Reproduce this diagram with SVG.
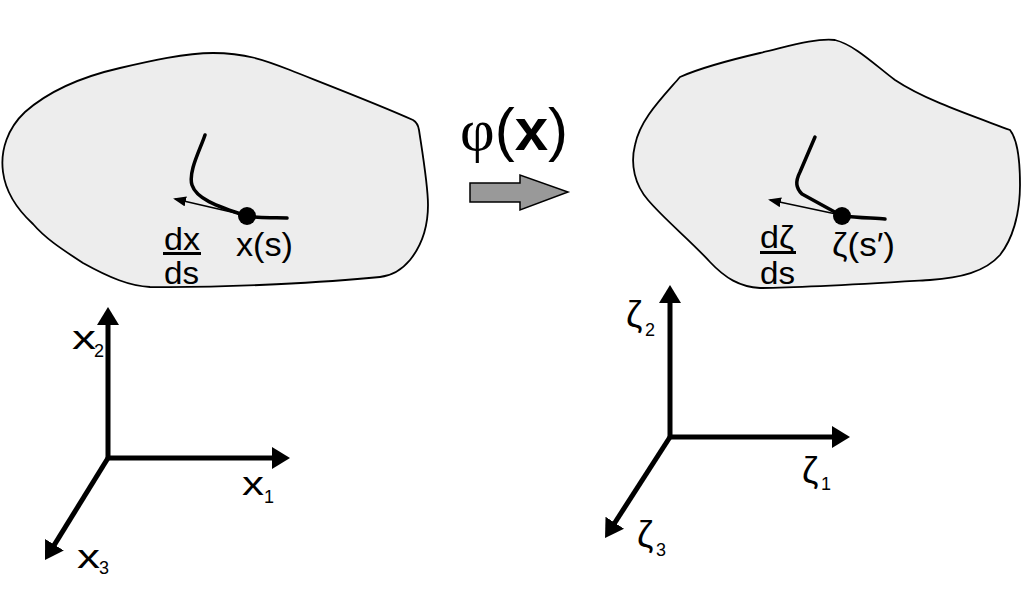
<svg xmlns="http://www.w3.org/2000/svg" width="1023" height="603" viewBox="0 0 1023 603">
<defs>
<style>
.blob{fill:#ededed;stroke:#000;stroke-width:1.8}
.curve{fill:none;stroke:#000;stroke-width:3.5;stroke-linecap:round;stroke-linejoin:round}
.tan{fill:none;stroke:#000;stroke-width:1.6}
.axis{fill:none;stroke:#000;stroke-width:5}
.t{font-family:"Liberation Sans",Arial,sans-serif;fill:#000}
.sub{font-family:"Liberation Sans",Arial,sans-serif;fill:#000;font-size:18px}
</style>
<marker id="ah" markerUnits="userSpaceOnUse" markerWidth="20" markerHeight="24" refX="2" refY="11" orient="auto" viewBox="0 0 20 24">
<path d="M0,0 L18,11 L0,22 z" fill="#000"/>
</marker>
<marker id="sh" markerUnits="userSpaceOnUse" markerWidth="14" markerHeight="12" refX="11" refY="5" orient="auto" viewBox="0 0 14 12">
<path d="M0,0 L13,5 L0,10 z" fill="#000"/>
</marker>
</defs>
<rect width="1023" height="603" fill="#fff"/>
<g id="body-left">
<path class="blob" d="M120,68 C150,61 185,53 213,53 C245,53 265,60 290,70 C320,82 380,105 413,120 Q418,123 419,130 C422,150 428,185 428,205 C428,225 422,245 410,260 C400,272 390,276 380,277 C330,282 230,288 150,287 C130,286 110,278 83,263 C60,248 45,238 33,224 C20,212 6,195 3,172 C0,150 8,128 25,112 C50,90 85,76 120,68 Z"/>
<path class="curve" d="M205,135 C200,150 188,172 192,185 C196,198 215,206 247,216 C262,219 275,217 287,218"/>
<circle cx="247" cy="216" r="9" fill="#000"/>
<text class="t" x="164" y="250" font-size="31" textLength="36" lengthAdjust="spacingAndGlyphs">dx</text>
<rect x="163" y="252" width="38" height="3" fill="#000"/>
<text class="t" x="164" y="284" font-size="31" textLength="35" lengthAdjust="spacingAndGlyphs">ds</text>
<text class="t" x="236" y="256" font-size="33" textLength="57" lengthAdjust="spacingAndGlyphs">x(s)</text>
</g>
<g id="body-right">
<path class="blob" d="M680,77 C700,68 730,60 760,53 C790,46 815,38 835,40 C855,45 875,65 895,80 C925,100 970,115 1010,130 C1018,140 1020,160 1020,185 C1020,215 1012,240 1000,255 C985,272 960,278 930,280 C880,283 800,288 760,288 C740,287 725,278 710,262 C690,240 665,220 648,200 C635,185 630,165 635,145 C640,120 660,100 680,77 Z"/>
<path class="curve" d="M815,137 L800,172 C795,182 796,188 802,194 L842,216 C860,218 875,218 885,219"/>
<circle cx="842" cy="216" r="9" fill="#000"/>
<text class="t" x="760" y="248" font-size="31" textLength="34" lengthAdjust="spacingAndGlyphs">dζ</text>
<rect x="760" y="251" width="36" height="3" fill="#000"/>
<text class="t" x="760" y="284" font-size="31" textLength="35" lengthAdjust="spacingAndGlyphs">ds</text>
<text class="t" x="832" y="256" font-size="33" textLength="63" lengthAdjust="spacingAndGlyphs">ζ(s′)</text>
</g>
<g id="mapping">
<text class="t" x="460" y="150" font-size="60"><tspan font-family="Liberation Serif,serif">φ</tspan><tspan>(</tspan><tspan font-weight="bold">x</tspan><tspan>)</tspan></text>
<polygon points="470,183 520,183 520,175 568,192 520,210 520,202 470,202" fill="#999" stroke="#000" stroke-width="1.5"/>
</g>
<g id="axes-left">
<text class="t" x="72" y="349" font-size="33" textLength="24" lengthAdjust="spacingAndGlyphs">x</text>
<text class="sub" x="94" y="357">2</text>
<text class="t" x="242" y="495" font-size="33" textLength="22" lengthAdjust="spacingAndGlyphs">x</text>
<text class="sub" x="264" y="503">1</text>
<text class="t" x="77" y="568" font-size="33" textLength="23" lengthAdjust="spacingAndGlyphs">x</text>
<text class="sub" x="99" y="574">3</text>
</g>
<g id="axes-right">
<text class="t" x="626" y="327" font-size="37">ζ</text>
<text class="sub" x="645" y="336" font-size="17">2</text>
<text class="t" x="802" y="483" font-size="37">ζ</text>
<text class="sub" x="821" y="490" font-size="17">1</text>
<text class="t" x="637" y="547" font-size="37">ζ</text>
<text class="sub" x="656" y="556" font-size="17">3</text>
</g>
<g id="connectors">
<line class="tan" x1="240" y1="214" x2="175" y2="199" marker-end="url(#sh)"/>
<line class="tan" x1="836" y1="214" x2="770" y2="200" marker-end="url(#sh)"/>
<path class="axis" d="M108,458 L108,323" marker-end="url(#ah)"/>
<path class="axis" d="M108,458 L274,458" marker-end="url(#ah)"/>
<path class="axis" d="M108,458 L53.4,546.4" marker-end="url(#ah)"/>
<path class="axis" d="M670,437 L670,301" marker-end="url(#ah)"/>
<path class="axis" d="M670,437 L834,437" marker-end="url(#ah)"/>
<path class="axis" d="M670,437 L613.7,524.5" marker-end="url(#ah)"/>
</g>
</svg>
